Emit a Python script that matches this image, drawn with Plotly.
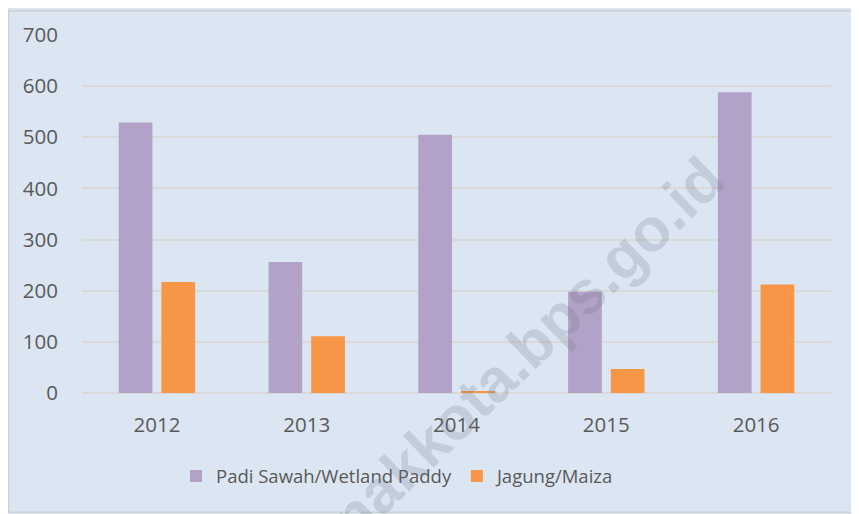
import plotly.graph_objects as go

years = ["2012", "2013", "2014", "2015", "2016"]
padi_sawah = [529, 256, 505, 198, 588]
jagung = [217, 111, 3, 47, 212]
series_names = ["Padi Sawah/Wetland Paddy", "Jagung/Maiza"]
y_ticks = [0, 100, 200, 300, 400, 500, 600, 700]

OFF = 8  # page body margin
W, H = 859 - OFF, 514 - OFF
L, R, T, B = 82 - OFF, 28, 33 - OFF, 121

fig = go.Figure()
fig.add_trace(go.Bar(x=years, y=padi_sawah, name=series_names[0],
                     marker=dict(color="#b3a2c7", line=dict(width=0))))
fig.add_trace(go.Bar(x=years, y=jagung, name=series_names[1],
                     marker=dict(color="#f79646", line=dict(width=0))))

pw, ph = W - L - R, H - T - B

def px_to_paper(px, py):
    # px, py are screen pixels of the reference
    return (px - OFF - L) / pw, (H - B - (py - OFF)) / ph

# background panel with thin border
x0, y0 = px_to_paper(8.5, 8.5)
x1, y1 = px_to_paper(858, 513)
fig.add_shape(type="rect", xref="paper", yref="paper", x0=x0, y0=y1, x1=x1, y1=y0,
              fillcolor="#dce6f2", line=dict(color="#d0d0d0", width=1.5), layer="below")

# watermark
wx, wy = px_to_paper(461, 412)
fig.add_annotation(text="pontianakkota.bps.go.id", xref="paper", yref="paper",
                   x=wx, y=wy, xanchor="center", yanchor="middle", showarrow=False,
                   textangle=-44,
                   font=dict(family="Arial", size=61, color="rgba(105,115,130,0.22)", weight="bold"))

lx, ly = px_to_paper(398, 477)
fig.update_layout(
    width=W, height=H,
    margin=dict(l=L, r=R, t=T, b=B, pad=0),
    paper_bgcolor="#dce6f2",
    plot_bgcolor="rgba(0,0,0,0)",
    barmode="group",
    bargap=0.43,
    bargroupgap=0.21,
    font=dict(family="Open Sans", color="#595959"),
    showlegend=True,
    legend=dict(orientation="h", x=lx, y=ly, xanchor="center", yanchor="middle",
                font=dict(size=18.5, color="#595959"), bgcolor="rgba(0,0,0,0)",
                itemwidth=30, traceorder="normal"),
    xaxis=dict(showgrid=False, showline=False, ticks="", tickfont=dict(size=20.5),
               ticklabelstandoff=17),
    yaxis=dict(range=[0, 700], tickvals=y_ticks, showgrid=True, gridcolor="#d9d9d9",
               gridwidth=1.5, zeroline=True, zerolinecolor="#d9d9d9", zerolinewidth=1.5,
               showline=False, ticks="", tickfont=dict(size=20.5), ticklabelstandoff=23),
)

fig.write_html("out.html")
